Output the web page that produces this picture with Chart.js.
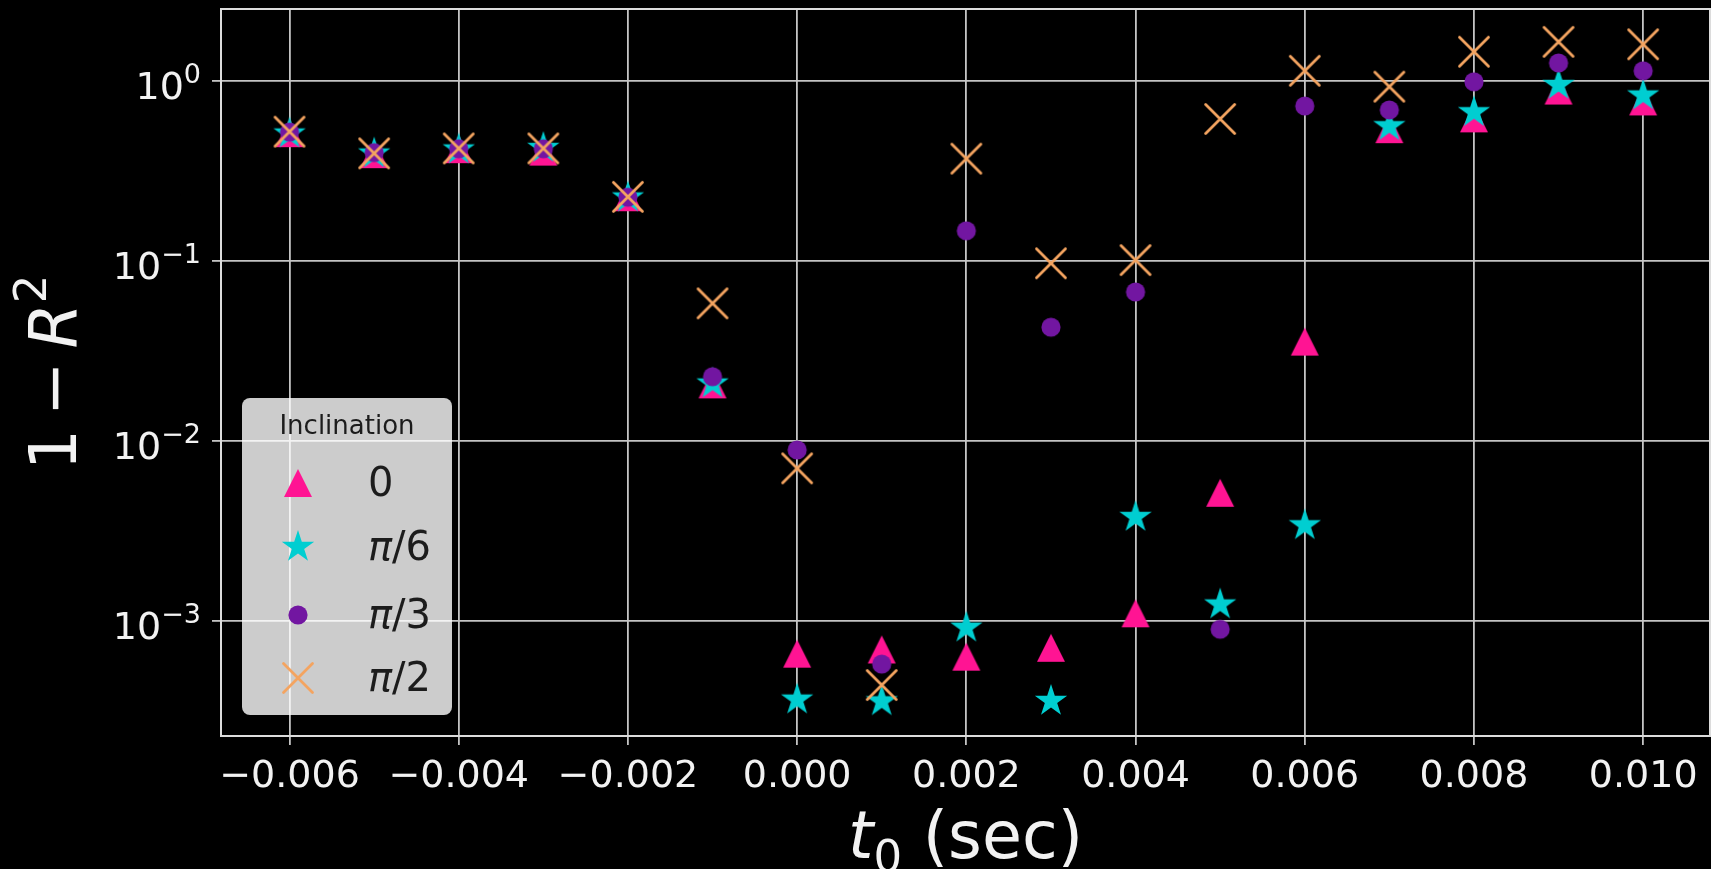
<!DOCTYPE html>
<html>
<head>
<meta charset="utf-8">
<title>1 − R² vs t0</title>
<script src="https://cdn.jsdelivr.net/npm/chart.js@4.4.1/dist/chart.umd.min.js"></script>
<style>
    html, body { margin: 0; padding: 0; background: #000; }
    #wrap { width: 1711px; height: 869px; position: relative; }
</style>
</head>
<body>
<div id="wrap"><canvas id="fitChart"></canvas></div>
<script>
// start time offsets (sec)
const t0 = [-0.006, -0.005, -0.004, -0.003, -0.002, -0.001, 0.000, 0.001, 0.002,
            0.003, 0.004, 0.005, 0.006, 0.007, 0.008, 0.009, 0.010];

// 1 - R^2 for each inclination
const incl0   = [0.513, 0.392, 0.418, 0.405, 0.226, 0.0206, 6.56e-4, 6.92e-4, 6.31e-4,
                 7.07e-4, 1.10e-3, 5.14e-3, 0.0356, 0.54, 0.62, 0.885, 0.77];
const inclPi6 = [0.51, 0.395, 0.416, 0.424, 0.225, 0.0208, 3.64e-4, 3.56e-4, 9.14e-4,
                 3.58e-4, 3.77e-3, 1.23e-3, 3.39e-3, 0.56, 0.67, 0.95, 0.83];
const inclPi3 = [0.52, 0.40, 0.42, 0.42, 0.226, 0.0227, 8.89e-3, 5.74e-4, 0.147,
                 0.0428, 0.0672, 8.96e-4, 0.726, 0.69, 0.99, 1.26, 1.14];
const inclPi2 = [0.523, 0.396, 0.422, 0.422, 0.227, 0.0581, 7.03e-3, 4.39e-4, 0.370,
                 0.097, 0.101, 0.615, 1.14, 0.93, 1.455, 1.65, 1.60];

const seriesLabels = ['0', 'π/6', 'π/3', 'π/2'];
const xTicks = [-0.006, -0.004, -0.002, 0.000, 0.002, 0.004, 0.006, 0.008, 0.010];
const yTicks = [1e-3, 1e-2, 1e-1, 1];

const textColor = '#f2f2f2';
const gridColor = '#c4c4c4';
const font = '"DejaVu Sans"';

// marker sprites, matplotlib-like shapes
function sprite(size, draw) {
    const c = document.createElement('canvas');
    c.width = size;
    c.height = size;
    draw(c.getContext('2d'), size / 2);
    return c;
}

const triMarker = sprite(32, (ctx, m) => {
    const h = 14;
    ctx.fillStyle = '#ff1493';
    ctx.beginPath();
    ctx.moveTo(m, m - h);
    ctx.lineTo(m - h, m + h);
    ctx.lineTo(m + h, m + h);
    ctx.closePath();
    ctx.fill();
});

const starMarker = sprite(38, (ctx, m) => {
    const R = 17, r = R * 0.381966;
    ctx.fillStyle = '#00ced1';
    ctx.beginPath();
    for (let i = 0; i < 10; i++) {
        const a = -Math.PI / 2 + i * Math.PI / 5;
        const rr = i % 2 ? r : R;
        const px = m + rr * Math.cos(a), py = m + rr * Math.sin(a);
        i ? ctx.lineTo(px, py) : ctx.moveTo(px, py);
    }
    ctx.closePath();
    ctx.fill();
});

const dotMarker = sprite(24, (ctx, m) => {
    ctx.fillStyle = '#7216a1';
    ctx.beginPath();
    ctx.arc(m, m, 9.6, 0, Math.PI * 2);
    ctx.fill();
});

const crossMarker = sprite(34, (ctx, m) => {
    const h = 14.5;
    ctx.strokeStyle = '#f4a460';
    ctx.lineWidth = 2.8;
    ctx.lineCap = 'round';
    ctx.beginPath();
    ctx.moveTo(m - h, m - h); ctx.lineTo(m + h, m + h);
    ctx.moveTo(m - h, m + h); ctx.lineTo(m + h, m - h);
    ctx.stroke();
});

const markers = [triMarker, starMarker, dotMarker, crossMarker];

function points(vals) {
    return t0.map((t, i) => ({ x: t, y: vals[i] }));
}

// draw text runs [text, font, dy] left to right starting at x
function drawRuns(ctx, runs, x, y) {
    runs.forEach(([txt, f, dy]) => {
        ctx.font = f;
        ctx.fillText(txt, x, y + (dy || 0));
        x += ctx.measureText(txt).width;
    });
}

function runsWidth(ctx, runs) {
    return runs.reduce((w, [txt, f]) => { ctx.font = f; return w + ctx.measureText(txt).width; }, 0);
}

const decorations = {
    id: 'decorations',
    afterDraw(chart) {
        const { ctx, chartArea: a, scales: { y } } = chart;
        ctx.save();

        // axes frame
        ctx.strokeStyle = '#dcdcdc';
        ctx.lineWidth = 2;
        ctx.strokeRect(a.left, a.top, a.right - a.left, a.bottom - a.top);

        // log tick labels 10^n
        ctx.fillStyle = textColor;
        ctx.textAlign = 'left';
        ctx.textBaseline = 'alphabetic';
        yTicks.forEach(v => {
            const py = y.getPixelForValue(v);
            const e = Math.round(Math.log10(v));
            const sup = e === 0 ? '0' : '\u2212' + (-e);
            const runs = [['10', '38px ' + font, 18], [sup, '27px ' + font, 2]];
            drawRuns(ctx, runs, 201 - runsWidth(ctx, runs), py);
        });

        // y axis title: 1 - R^2
        ctx.save();
        ctx.translate(76, (a.top + a.bottom) / 2);
        ctx.rotate(-Math.PI / 2);
        const yRuns = [['1', '65px ' + font], ['\u2009\u2212\u2009', '65px ' + font],
                       ['R', 'italic 65px ' + font], ['2', '45px ' + font, -30]];
        drawRuns(ctx, yRuns, -runsWidth(ctx, yRuns) / 2, 0);
        ctx.restore();

        // x axis title: t_0 (sec)
        const xRuns = [['t', 'italic 65px ' + font], ['0', '45px ' + font, 14], [' (sec)', '65px ' + font]];
        drawRuns(ctx, xRuns, (a.left + a.right) / 2 - runsWidth(ctx, xRuns) / 2, 858);

        // legend box
        const lx = 242, ly = 398, lw = 210, lh = 317;
        ctx.fillStyle = 'rgba(255,255,255,0.8)';
        ctx.beginPath();
        ctx.roundRect(lx, ly, lw, lh, 8);
        ctx.fill();

        ctx.fillStyle = '#1c1c1c';
        ctx.textAlign = 'center';
        ctx.font = '26px ' + font;
        ctx.fillText('Inclination', lx + lw / 2, 434);

        ctx.textAlign = 'left';
        const rowY = [483, 547, 615, 678];
        seriesLabels.forEach((lab, i) => {
            const m = markers[i];
            ctx.drawImage(m, 298 - m.width / 2, rowY[i] - m.height / 2);
            const runs = lab === '0'
                ? [['0', '40px ' + font]]
                : [['π', 'italic 40px ' + font], [lab.slice(1), '40px ' + font]];
            drawRuns(ctx, runs, 368, rowY[i] + 13);
        });

        ctx.restore();
    }
};

const fmt = v => (v === 0 ? 0 : v).toFixed(3).replace('-', '\u2212');

// keep the plot area fixed: no extra room for overhanging edge labels
function fixBox(s, size) {
    if (s.isHorizontal()) s.height = size; else s.width = size;
    s.paddingLeft = 0;
    s.paddingRight = 0;
    s.paddingTop = 0;
    s.paddingBottom = 0;
}

new Chart(document.getElementById('fitChart'), {
    type: 'scatter',
    data: {
        datasets: [
            { label: seriesLabels[0], data: points(incl0), pointStyle: triMarker, pointRadius: 10, order: 3 },
            { label: seriesLabels[1], data: points(inclPi6), pointStyle: starMarker, pointRadius: 10, order: 2 },
            { label: seriesLabels[2], data: points(inclPi3), pointStyle: dotMarker, pointRadius: 10, order: 1 },
            { label: seriesLabels[3], data: points(inclPi2), pointStyle: crossMarker, pointRadius: 10, order: 0 }
        ]
    },
    options: {
        responsive: true,
        maintainAspectRatio: false,
        animation: false,
        events: [],
        layout: { autoPadding: false, padding: { top: 9, right: 1, bottom: 0, left: 0 } },
        plugins: { legend: { display: false }, tooltip: { enabled: false } },
        scales: {
            x: {
                type: 'linear',
                min: -0.00681,
                max: 0.01079,
                afterBuildTicks: s => { s.ticks = xTicks.map(v => ({ value: v })); },
                afterFit: s => fixBox(s, 133),
                grid: { color: gridColor, lineWidth: 1.8, tickLength: 9, tickColor: gridColor },
                border: { display: false },
                ticks: {
                    color: textColor,
                    font: { family: 'DejaVu Sans', size: 38 },
                    padding: 9,
                    maxRotation: 0,
                    autoSkip: false,
                    callback: v => fmt(v)
                }
            },
            y: {
                type: 'logarithmic',
                min: 2.286e-4,
                max: 2.513,
                afterBuildTicks: s => { s.ticks = yTicks.map(v => ({ value: v })); },
                afterFit: s => fixBox(s, 221),
                grid: { color: gridColor, lineWidth: 1.8, tickLength: 9, tickColor: gridColor },
                border: { display: false },
                ticks: { display: false }
            }
        }
    },
    plugins: [decorations]
});
</script>
</body>
</html>
